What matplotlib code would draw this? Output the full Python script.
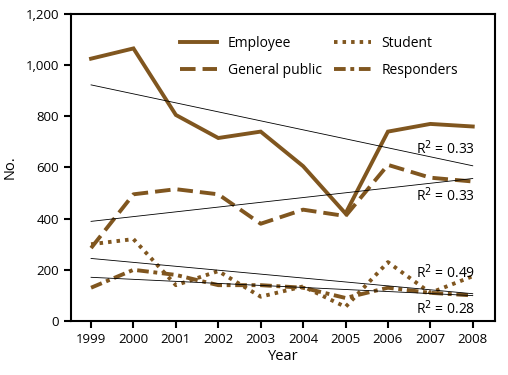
import numpy as np
import matplotlib.pyplot as plt
from matplotlib.ticker import FuncFormatter

years = [1999, 2000, 2001, 2002, 2003, 2004, 2005, 2006, 2007, 2008]
employee = [1025, 1065, 805, 715, 740, 605, 420, 740, 770, 760]
general_public = [285, 495, 515, 495, 380, 435, 410, 610, 560, 545]
student = [300, 320, 140, 195, 95, 135, 55, 230, 110, 175]
responders = [130, 200, 180, 140, 140, 130, 90, 130, 110, 100]
r2_labels = ["0.33", "0.33", "0.49", "0.28"]

brown = "#80561f"
plt.rcParams["font.family"] = ["Open Sans", "DejaVu Sans"]
plt.rcParams["font.size"] = 9.5

fig = plt.figure(figsize=(5.08, 3.75), dpi=100)
ax = fig.add_axes([0.140, 0.144, 0.834, 0.819])

yrs = np.array(years, dtype=float)
ax.plot(yrs, employee, color=brown, lw=2.8, solid_joinstyle="miter", label="Employee")
ax.plot(yrs, general_public, color=brown, lw=2.8, dashes=(4.0, 1.8), label="General public")
ax.plot(yrs, student, color=brown, lw=2.8, dashes=(0.9, 1.3), label="Student")
ax.plot(yrs, responders, color=brown, lw=2.8, dashes=(3.0, 1.2, 1.0, 1.2), label="Responders")

# linear trend lines
for series in (employee, general_public, student, responders):
    k, b = np.polyfit(yrs, series, 1)
    ax.plot(yrs, k * yrs + b, color="black", lw=0.6, zorder=3)

label_y = [675, 490, 190, 50]
for txt, y in zip(r2_labels, label_y):
    ax.text(2008.05, y, f"R$^2$ = {txt}", ha="right", va="center", fontsize=10)

ax.set_xlim(1998.53, 2008.52)
ax.set_ylim(0, 1200)
ax.set_xticks(years)
ax.set_yticks(range(0, 1201, 200))
ax.yaxis.set_major_formatter(FuncFormatter(lambda v, p: f"{int(v):,}"))
ax.tick_params(direction="out", length=5, width=1.5, top=False, right=False)
for s in ax.spines.values():
    s.set_linewidth(1.5)
ax.set_xlabel("Year", fontsize=10.5, labelpad=2)
ax.set_ylabel("No.", fontsize=10.5, labelpad=6)

ax.legend(loc="upper left", bbox_to_anchor=(0.245, 0.945), borderaxespad=0, ncol=2,
          frameon=False, handlelength=2.65, handletextpad=0.75, columnspacing=0.9,
          labelspacing=0.85, fontsize=10)

fig.savefig("out.png", dpi=100)
